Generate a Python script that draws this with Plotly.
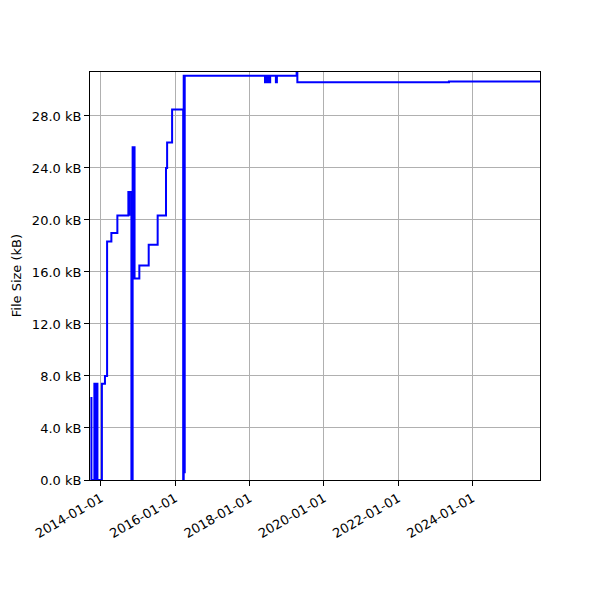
import plotly.graph_objects as go

dates = [
    "2013-09-19", "2013-09-29", "2013-10-28", "2013-11-07", "2013-11-12", "2013-11-27",
    "2014-01-10", "2014-02-09", "2014-03-02", "2014-04-13", "2014-06-11",
    "2014-09-27", "2014-10-02", "2014-10-07", "2014-10-27", "2014-11-08",
    "2014-11-15", "2014-11-20", "2014-11-27",
    "2015-01-13", "2015-04-15", "2015-07-12", "2015-10-02", "2015-10-13", "2015-12-01",
    "2016-03-19", "2016-03-24", "2016-03-29", "2016-04-03",
    "2018-06-01", "2018-06-10", "2018-06-20", "2018-06-29", "2018-07-09", "2018-07-22",
    "2018-09-16", "2018-09-26",
    "2019-04-08", "2019-04-15",
    "2023-05-14", "2025-10-25",
]
size_kb = [
    6.3, 0.0, 7.4, 0.0, 7.4, 0.0,
    7.4, 8.0, 18.35, 19.0, 20.35,
    22.15, 20.4, 22.15, 0.0, 25.6,
    22.0, 25.6, 15.5,
    16.5, 18.1, 20.35, 24.0, 25.95, 28.5,
    0.0, 31.1, 0.6, 31.1,
    30.6, 31.1, 30.6, 31.1, 30.6, 31.1,
    30.6, 31.1,
    31.4, 30.6,
    30.64, 30.64,
]

y_tick_vals = [0, 4, 8, 12, 16, 20, 24, 28]
y_tick_text = [f"{v:.1f} kB" for v in y_tick_vals]
x_tick_vals = ["2014-01-01", "2016-01-01", "2018-01-01", "2020-01-01", "2022-01-01", "2024-01-01"]

fig = go.Figure()
fig.add_trace(go.Scatter(
    x=dates, y=size_kb, mode="lines", line_shape="hv",
    line=dict(color="#0000ff", width=2), showlegend=False,
))

axis_common = dict(
    showline=True, linecolor="black", linewidth=1, mirror=True,
    ticks="outside", ticklen=5, tickwidth=1, tickcolor="black",
    showgrid=True, gridcolor="#b0b0b0", gridwidth=1, zeroline=False,
    automargin=False,
    tickfont=dict(family="DejaVu Sans", size=13, color="black"),
)

fig.update_layout(
    width=600, height=600,
    margin=dict(l=82, r=68, t=64, b=128),
    paper_bgcolor="white", plot_bgcolor="white",
    font=dict(family="DejaVu Sans", size=13, color="black"),
    xaxis=dict(
        type="date", range=["2013-09-15", "2025-10-25"],
        tickvals=x_tick_vals, ticktext=x_tick_vals, tickangle=-30,
        **axis_common,
    ),
    yaxis=dict(
        range=[0, 31.38], tickvals=y_tick_vals, ticktext=y_tick_text,
        **axis_common,
    ),
    annotations=[dict(
        text="File Size (kB)", xref="paper", yref="paper",
        x=-0.164, y=0.5, textangle=-90, showarrow=False,
        xanchor="center", yanchor="middle",
        font=dict(family="DejaVu Sans", size=13, color="black"),
    )],
)

fig.write_html("out.html")
